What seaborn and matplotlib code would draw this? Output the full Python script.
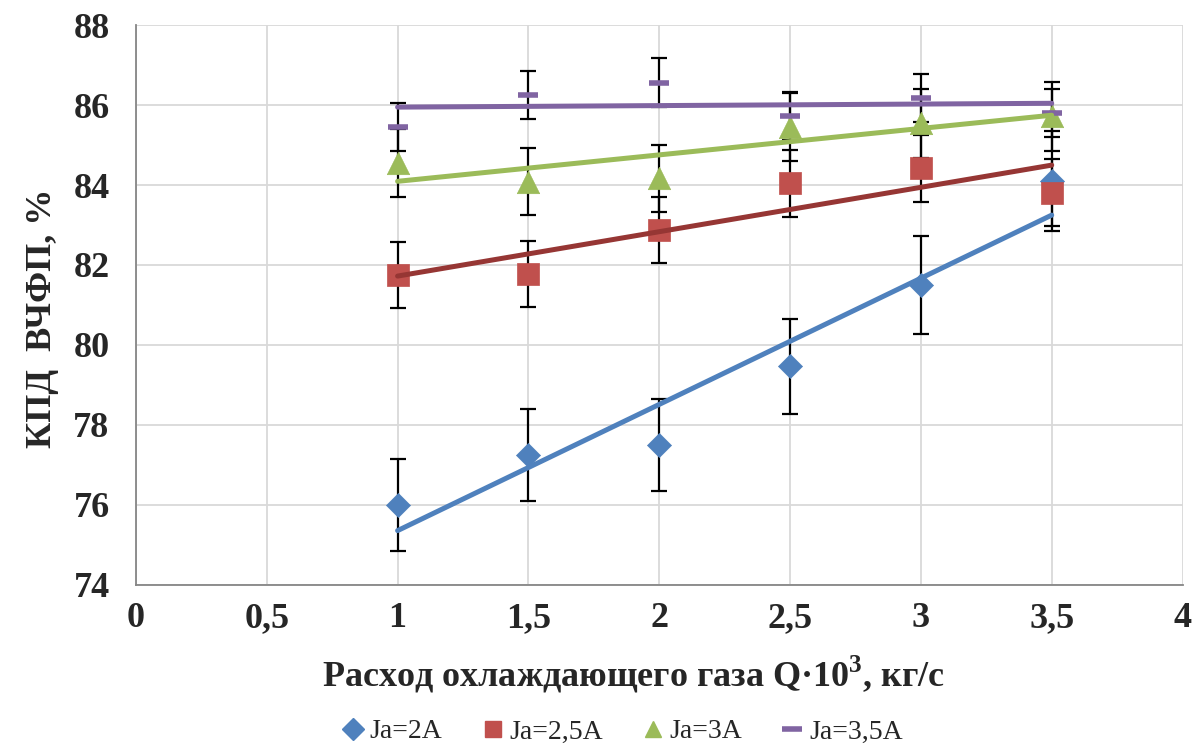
import numpy as np
import pandas as pd
import matplotlib
matplotlib.use("Agg")
import matplotlib.pyplot as plt
import seaborn as sns
from matplotlib.lines import Line2D

x_vals = [1, 1.5, 2, 2.5, 3, 3.5]
ja_2 = [76.0, 77.25, 77.5, 79.47, 81.5, 84.1]
ja_25 = [81.75, 81.77, 82.87, 84.04, 84.42, 83.81]
ja_3 = [84.54, 84.08, 84.17, 85.46, 85.54, 85.72]
ja_35 = [85.46, 86.25, 86.56, 85.72, 86.17, 85.81]
err_2 = [1.14, 1.16, 1.16, 1.19, 1.22, 1.26]
err_25 = [0.82, 0.82, 0.83, 0.84, 0.84, 0.84]
err_3 = [0.85, 0.84, 0.84, 0.85, 0.86, 0.86]
err_35 = [0.60, 0.60, 0.61, 0.60, 0.60, 0.60]
labels = ["Ja=2A", "Ja=2,5A", "Ja=3A", "Ja=3,5A"]
x_ticks = [0, 0.5, 1, 1.5, 2, 2.5, 3, 3.5, 4]
x_tick_labels = ["0", "0,5", "1", "1,5", "2", "2,5", "3", "3,5", "4"]
y_ticks = [74, 76, 78, 80, 82, 84, 86, 88]

sns.set_theme(style="white")
plt.rcParams["font.family"] = ["Liberation Serif", "DejaVu Serif"]
plt.rcParams["mathtext.fontset"] = "custom"
plt.rcParams["mathtext.rm"] = "Liberation Serif"
plt.rcParams["mathtext.bf"] = "Liberation Serif:bold"

marker_colors = ["#4F81BD", "#C0504D", "#9BBB59", "#8064A2"]
line_colors = ["#4F81BD", "#963634", "#9BBB59", "#8064A2"]
markers = ["D", "s", "^", "_"]
sizes = [150, 250, 260, 210]

series = [ja_2, ja_25, ja_3, ja_35]
errs = [err_2, err_25, err_3, err_35]

fig = plt.figure(figsize=(12.03, 7.49), dpi=100)
ax = fig.add_axes([0.113, 0.219, 0.87, 0.7476])

for i, (ys, es) in enumerate(zip(series, errs)):
    ax.errorbar(x_vals, ys, yerr=es, fmt="none", ecolor="black",
                elinewidth=1.6, capsize=6, capthick=1.6, zorder=2)
for i, ys in enumerate(series):
    df = pd.DataFrame({"x": x_vals, "y": ys})
    if markers[i] == "_":
        sns.scatterplot(data=df, x="x", y="y", ax=ax, marker="_", s=sizes[i],
                        color=marker_colors[i], linewidth=4, zorder=3)
    else:
        sns.scatterplot(data=df, x="x", y="y", ax=ax, marker=markers[i], s=sizes[i],
                        color=marker_colors[i], edgecolor=marker_colors[i],
                        linewidth=0.5, zorder=3)
for i, ys in enumerate(series):
    df = pd.DataFrame({"x": x_vals, "y": ys})
    sns.regplot(data=df, x="x", y="y", ax=ax, scatter=False, ci=None,
                truncate=True, line_kws={"color": line_colors[i], "lw": 3.6,
                                         "zorder": 4, "solid_capstyle": "round"})

ax.set_xlim(0, 4)
ax.set_ylim(74, 88)
ax.set_xticks(x_ticks)
ax.set_xticklabels(x_tick_labels)
ax.set_yticks(y_ticks)
ax.grid(True, color="#d9d9d9", linewidth=1.3)
ax.set_axisbelow(True)
for s in ["top", "right"]:
    ax.spines[s].set_visible(False)
for s in ["left", "bottom"]:
    ax.spines[s].set_color("#868686")
    ax.spines[s].set_linewidth(1.3)
ax.tick_params(axis="both", which="major", direction="out", length=5, width=1.2,
               color="#868686", labelsize=26, pad=7)
ax.tick_params(axis="y", pad=14)
for lab in ax.get_xticklabels() + ax.get_yticklabels():
    lab.set_fontweight("bold")

ax.set_xlabel(r"Расход охлаждающего газа Q·10$^{\mathbf{3}}$, кг/с", fontsize=26,
              fontweight="bold", labelpad=14)
ax.set_ylabel("КПД  ВЧФП, %", fontsize=26, fontweight="bold", labelpad=10)
ax.xaxis.label.set_x(0.475)
ax.yaxis.label.set_y(0.477)

handles = []
for i in range(4):
    if markers[i] == "_":
        h = Line2D([], [], linestyle="none", marker="_", markersize=15,
                   markeredgewidth=4, color=marker_colors[i])
    else:
        h = Line2D([], [], linestyle="none", marker=markers[i], markersize=12 if i else 11,
                   color=marker_colors[i])
    handles.append(h)
fig.legend(handles, labels, loc="center", bbox_to_anchor=(0.515, 0.023), ncol=4,
           frameon=False, fontsize=20, handletextpad=0.0, columnspacing=1.2,
           handlelength=1.2)

fig.savefig("out.png", dpi=100)
